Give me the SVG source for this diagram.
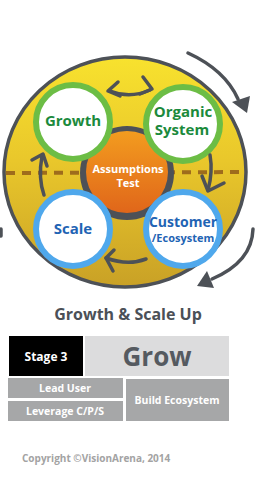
<svg xmlns="http://www.w3.org/2000/svg" width="261" height="477" viewBox="0 0 261 477">
<defs>
<linearGradient id="gy" x1="0" y1="0" x2="0" y2="1">
<stop offset="0" stop-color="#f8e22e"/>
<stop offset="0.45" stop-color="#e9c72b"/>
<stop offset="1" stop-color="#c9a126"/>
</linearGradient>
<linearGradient id="go" x1="0" y1="0" x2="0" y2="1">
<stop offset="0" stop-color="#f39c1f"/>
<stop offset="1" stop-color="#e0661a"/>
</linearGradient>
</defs>
<style>
.ink{fill:none;stroke:#4d5157;stroke-width:3.5;stroke-linecap:round;stroke-linejoin:round}
.tri{fill:#4d5157}
.gr{fill:#fff;stroke:#6cbd45;stroke-width:6}
.bl{fill:#fff;stroke:#4fa8ec;stroke-width:6}
.t{font-family:"Open Sans","DejaVu Sans",sans-serif;font-weight:bold;text-anchor:middle}
.tg{fill:#1b8a3c;font-size:15px}
.tb{fill:#1f64b4}
.box{fill:#a6a7a8}
.bt{fill:#fff;font-size:10.5px}
</style>
<g id="wheel">
<ellipse cx="125" cy="172" rx="121" ry="115" fill="url(#gy)" stroke="#4d5157" stroke-width="3.5"/>
<line x1="6" y1="173" x2="246" y2="172" stroke="#9e6c1c" stroke-width="4" stroke-dasharray="9,7"/>
</g>
<g id="assumptions">
<circle cx="127" cy="173" r="47" fill="#4d5157"/>
<circle cx="127" cy="172" r="41" fill="url(#go)"/>
<text class="t" x="128" y="173" fill="#fff" font-size="11">Assumptions</text>
<text class="t" x="128" y="187" fill="#fff" font-size="11">Test</text>
</g>
<g id="growth">
<circle class="gr" cx="73" cy="122" r="37"/>
<text class="t tg" x="73" y="126">Growth</text>
</g>
<g id="organic">
<circle class="gr" cx="183" cy="124" r="37"/>
<text class="t tg" x="183" y="116.5" font-size="14.5">Organic</text>
<text class="t tg" x="182" y="135" font-size="14.5">System</text>
</g>
<g id="scale">
<circle class="bl" cx="73" cy="229" r="37"/>
<text class="t tb" x="73" y="234" font-size="15">Scale</text>
</g>
<g id="customer">
<circle class="bl" cx="183" cy="229" r="37"/>
<text class="t tb" x="183" y="227" font-size="14">Customer</text>
<text class="t tb" x="183" y="242" font-size="11">/Ecosystem</text>
</g>
<g id="connectors">
<path class="ink" d="M110 91 Q130 99 150 90"/>
<path class="ink" d="M118 82 L108 91 L120 96"/>
<path class="ink" d="M143 77 L152 89 L140 94"/>
<path class="ink" d="M44 195 Q38 178 42 156"/>
<path class="ink" d="M32 160 L43 154 L47 166"/>
<path class="ink" d="M210 155 Q213 172 208 190"/>
<path class="ink" d="M202 176 L208 191 L224 183"/>
<path class="ink" d="M146 259 Q128 266 106 258"/>
<path class="ink" d="M114 250 L106 258 L113 271"/>
<path class="ink" stroke-width="3" d="M188 53 Q225 70 238 99"/>
<polygon class="tri" points="232,102 250,96 247,113"/>
<path class="ink" stroke-width="3" d="M253 229 Q252 262 212 279"/>
<polygon class="tri" points="197,286 207,271 214,288"/>
<path class="ink" stroke-width="2.5" d="M1 229 L1 236"/>
</g>
<g id="title">
<text class="t" x="128" y="320" fill="#4b5057" font-size="16">Growth &amp; Scale Up</text>
</g>
<g id="stage">
<rect x="9" y="336" width="74" height="40" fill="#000"/>
<text class="t" x="46" y="361" fill="#fff" font-size="12">Stage 3</text>
</g>
<g id="grow">
<rect x="85" y="336" width="144" height="40" fill="#dcdcdd"/>
<text class="t" x="157" y="366" fill="#555a60" font-size="26">Grow</text>
</g>
<g id="leaduser">
<rect class="box" x="8" y="378" width="115" height="20"/>
<text class="t bt" x="65" y="392">Lead User</text>
</g>
<g id="leverage">
<rect class="box" x="8" y="401" width="115" height="20"/>
<text class="t bt" x="65" y="415">Leverage C/P/S</text>
</g>
<g id="ecosystem">
<rect class="box" x="126" y="379" width="103" height="42"/>
<text class="t bt" x="177" y="404">Build Ecosystem</text>
</g>
<g id="copyright">
<text x="22" y="462" fill="#a3a3a3" font-family="'Open Sans','DejaVu Sans',sans-serif" font-weight="bold" font-size="10">Copyright ©VisionArena, 2014</text>
</g>
</svg>
